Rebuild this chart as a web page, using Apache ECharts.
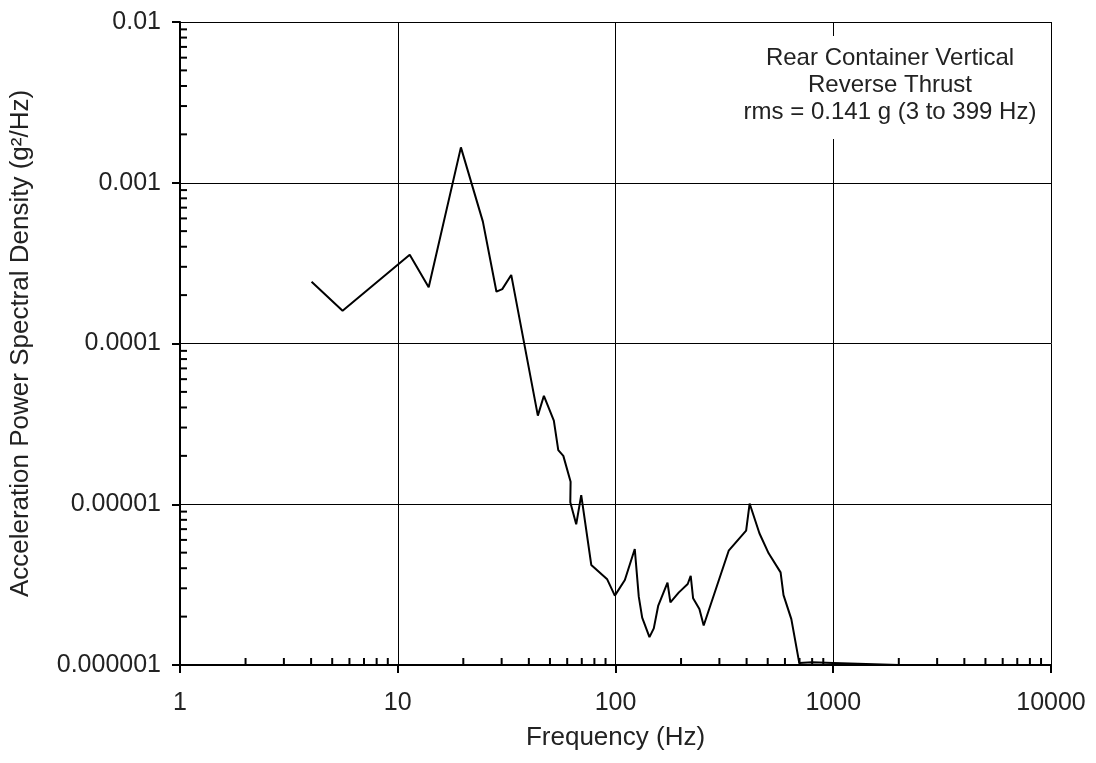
<!DOCTYPE html>
<html>
<head>
<meta charset="utf-8">
<script src="https://cdn.jsdelivr.net/npm/echarts@6/dist/echarts.min.js"></script>
<style>
  html, body { margin: 0; padding: 0; background: #fff; }
  #chart { width: 1096px; height: 763px; }
</style>
</head>
<body>
<div id="chart"></div>
<script>
// ---- Data ----
var frequencyHz = [4.02, 5.58, 11.35, 13.87, 19.5, 24.6, 28.4, 30.2, 33.2, 44.0, 46.9, 52.1, 54.6, 57.6, 62.2, 62.0, 66.0, 69.6, 77.4, 91.6, 99.3, 110.4, 122.6, 127.9, 132.6, 143.2, 149.9, 157, 173.3, 178.7, 195, 214.6, 221.5, 227.2, 242.8, 254.1, 331, 398, 413, 458, 505, 573, 591, 642, 698, 800, 1000, 2000];
var psdValues = [2.42e-4, 1.6e-4, 3.56e-4, 2.24e-4, 1.66e-3, 5.73e-4, 2.10e-4, 2.18e-4, 2.67e-4, 3.56e-5, 4.73e-5, 3.31e-5, 2.17e-5, 2.0e-5, 1.38e-5, 1.03e-5, 7.5e-6, 1.14e-5, 4.19e-6, 3.41e-6, 2.70e-6, 3.38e-6, 5.27e-6, 2.66e-6, 1.97e-6, 1.49e-6, 1.69e-6, 2.33e-6, 3.25e-6, 2.45e-6, 2.82e-6, 3.19e-6, 3.59e-6, 2.60e-6, 2.23e-6, 1.76e-6, 5.14e-6, 6.85e-6, 1.01e-5, 6.6e-6, 4.95e-6, 3.77e-6, 2.72e-6, 1.93e-6, 1.03e-6, 1.04e-6, 1.03e-6, 1.0e-6];

var xTickValues = [1, 10, 100, 1000, 10000];
var xTickLabels = ['1', '10', '100', '1000', '10000'];
var yTickValues = [1e-6, 1e-5, 1e-4, 1e-3, 1e-2];
var yTickLabels = ['0.000001', '0.00001', '0.0001', '0.001', '0.01'];

var xMinorTicks = [2, 3, 4, 5, 6, 7, 8, 9, 20, 30, 40, 50, 60, 70, 80, 90, 200, 300, 400, 500, 600, 700, 800, 900, 2000, 3000, 4000, 5000, 6000, 7000, 8000, 9000];
var yMinorTicks = [2e-6, 3e-6, 4e-6, 5e-6, 6e-6, 7e-6, 8e-6, 9e-6, 2e-5, 3e-5, 4e-5, 5e-5, 6e-5, 7e-5, 8e-5, 9e-5, 2e-4, 3e-4, 4e-4, 5e-4, 6e-4, 7e-4, 8e-4, 9e-4, 2e-3, 3e-3, 4e-3, 5e-3, 6e-3, 7e-3, 8e-3, 9e-3];

var xAxisTitle = 'Frequency (Hz)';
var yAxisTitle = 'Acceleration Power Spectral Density (g\u00B2/Hz)';
var annotationLines = ['Rear Container Vertical', 'Reverse Thrust', 'rms = 0.141 g (3 to 399 Hz)'];

// ---- Build ----
var FONT = 'Liberation Sans, Arial, sans-serif';
var TXT = '#222';
var lineData = frequencyHz.map(function (f, i) { return [f, psdValues[i]]; });

function labelFor(values, labels) {
  return function (v) {
    for (var i = 0; i < values.length; i++) {
      if (Math.abs(Math.log10(v) - Math.log10(values[i])) < 1e-6) return labels[i];
    }
    return '';
  };
}

var chart = echarts.init(document.getElementById('chart'), null, { renderer: 'canvas' });
chart.setOption({
  animation: false,
  backgroundColor: '#fff',
  grid: { left: 179, right: 45, top: 22, bottom: 98, containLabel: false },
  xAxis: {
    type: 'log', logBase: 10, min: 1, max: 10000,
    name: xAxisTitle, nameLocation: 'middle', nameGap: 60,
    nameTextStyle: { fontFamily: FONT, fontSize: 26, color: TXT },
    axisLine: { show: true, onZero: false, lineStyle: { color: '#000', width: 2 } },
    axisTick: { show: true, inside: false, length: 8, lineStyle: { color: '#000', width: 2 } },
    axisLabel: { fontFamily: FONT, fontSize: 25, color: TXT, margin: 26, formatter: labelFor(xTickValues, xTickLabels) },
    splitLine: { show: true, lineStyle: { color: '#000', width: 1 } },
    minorTick: { show: false }
  },
  yAxis: {
    type: 'log', logBase: 10, min: 1e-6, max: 1e-2,
    name: yAxisTitle, nameLocation: 'middle', nameGap: 146, nameRotate: 90,
    nameTextStyle: { fontFamily: FONT, fontSize: 26, color: TXT },
    axisLine: { show: true, onZero: false, lineStyle: { color: '#000', width: 2 } },
    axisTick: { show: true, inside: false, length: 8, lineStyle: { color: '#000', width: 2 } },
    axisLabel: { fontFamily: FONT, fontSize: 25, color: TXT, margin: 19, formatter: labelFor(yTickValues, yTickLabels) },
    splitLine: { show: true, lineStyle: { color: '#000', width: 1 } },
    minorTick: { show: false }
  },
  graphic: [{
    type: 'text',
    x: 890, y: 36,
    z: 10,
    style: {
      text: annotationLines.join('\n'),
      fontFamily: FONT, fontSize: 24, lineHeight: 27,
      fill: TXT,
      align: 'center', verticalAlign: 'top',
      backgroundColor: '#fff',
      padding: [9, 6, 13, 6]
    }
  }],
  series: [
    {
      type: 'custom',
      name: 'xMinor',
      silent: true,
      clip: false,
      z: 5,
      data: xMinorTicks.map(function (v) { return [v]; }),
      renderItem: function (params, api) {
        var p = api.coord([api.value(0), 1e-6]);
        return { type: 'line', shape: { x1: p[0], y1: p[1], x2: p[0], y2: p[1] - 7 }, style: { stroke: '#000', lineWidth: 2 } };
      }
    },
    {
      type: 'custom',
      name: 'yMinor',
      silent: true,
      clip: false,
      z: 5,
      data: yMinorTicks.map(function (v) { return [1, v]; }),
      renderItem: function (params, api) {
        var p = api.coord([1, api.value(1)]);
        return { type: 'line', shape: { x1: p[0], y1: p[1], x2: p[0] + 7, y2: p[1] }, style: { stroke: '#000', lineWidth: 2 } };
      }
    },
    {
      type: 'line',
      name: 'PSD',
      data: lineData,
      showSymbol: false,
      symbol: 'none',
      clip: false,
      z: 3,
      lineStyle: { color: '#000', width: 2 }
    }
  ]
});
</script>
</body>
</html>
